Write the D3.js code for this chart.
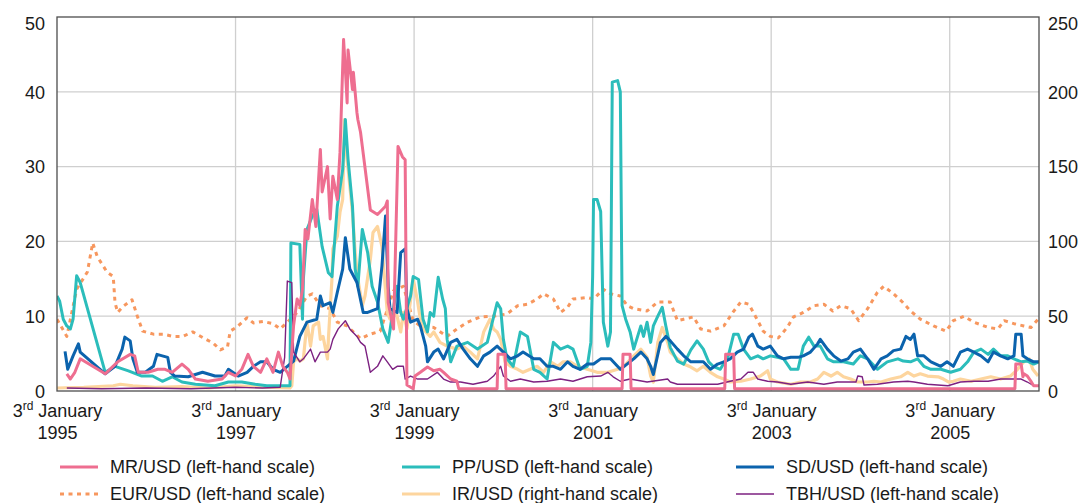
<!DOCTYPE html>
<html>
<head>
<meta charset="utf-8">
<script src="https://cdn.jsdelivr.net/npm/d3@7"></script>
<style>
  body { margin: 0; background: #fff; }
  svg text { font-family: "Liberation Sans", Arial, Helvetica, sans-serif; fill: #1a1a1a; }
</style>
</head>
<body>
<svg id="chart" width="1078" height="503"></svg>
<script>
// ---- data (decimal year, value) ------------------------------------------
const mrUsd = [[1995.11,2.3],[1995.15,1.6],[1995.20,2.5],[1995.26,4.3],[1995.54,2.3],[1995.68,3.9],[1995.82,4.9],[1995.87,4.7],[1995.91,2.5],[1996.02,2.5],[1996.13,2.9],[1996.21,2.9],[1996.29,2.5],[1996.40,3.6],[1996.47,2.9],[1996.55,1.6],[1996.69,1.3],[1996.85,1.6],[1996.92,2.5],[1997.00,2.0],[1997.07,2.9],[1997.14,4.9],[1997.20,3.3],[1997.28,2.5],[1997.35,4.3],[1997.42,2.5],[1997.48,5.2],[1997.53,3.3],[1997.58,2.5],[1997.61,1.6],[1997.63,5.2],[1997.65,8.7],[1997.69,12.3],[1997.72,11.4],[1997.75,13.6],[1997.78,21.6],[1997.81,20.3],[1997.86,25.6],[1997.90,22.0],[1997.93,28.3],[1997.95,32.3],[1997.97,26.6],[1998.03,30.0],[1998.06,23.0],[1998.09,28.7],[1998.14,25.6],[1998.17,31.9],[1998.21,47.0],[1998.23,43.0],[1998.25,38.5],[1998.26,45.6],[1998.31,40.3],[1998.32,42.6],[1998.36,37.2],[1998.37,36.3],[1998.40,34.6],[1998.42,32.7],[1998.51,24.2],[1998.59,23.6],[1998.68,24.7],[1998.70,25.4],[1998.71,11.8],[1998.77,8.3],[1998.82,32.7],[1998.87,31.3],[1998.90,30.9],[1998.92,0.8],[1998.99,0.3],[1999.01,2.0],[1999.07,2.5],[1999.15,3.2],[1999.22,2.7],[1999.29,2.9],[1999.33,2.5],[1999.41,1.6],[1999.48,1.3],[1999.50,0.3],[1999.93,0.3],[1999.94,4.9],[2000.02,4.9],[2000.03,0.3],[2001.33,0.3],[2001.34,4.9],[2001.42,4.9],[2001.43,0.3],[2002.48,0.3],[2002.49,4.9],[2002.58,4.9],[2002.59,0.3],[2005.73,0.3],[2005.74,3.6],[2005.80,3.6],[2005.82,1.9],[2005.83,2.3],[2005.87,2.0],[2005.91,1.3],[2005.94,0.7],[2006.00,0.7]];

const eurUsd = [[1995.00,9.6],[1995.11,7.3],[1995.22,13.6],[1995.34,15.9],[1995.40,19.8],[1995.45,18.0],[1995.56,15.9],[1995.63,15.3],[1995.65,11.8],[1995.68,10.5],[1995.74,11.3],[1995.84,12.2],[1995.90,10.0],[1995.96,8.0],[1996.08,7.6],[1996.19,7.6],[1996.30,7.3],[1996.41,7.3],[1996.52,7.9],[1996.64,7.1],[1996.75,6.4],[1996.83,5.5],[1996.91,5.9],[1996.94,8.0],[1997.02,8.6],[1997.13,9.8],[1997.20,9.1],[1997.31,9.3],[1997.42,9.0],[1997.50,8.3],[1997.58,9.2],[1997.69,10.5],[1997.80,12.7],[1997.86,13.0],[1997.95,11.4],[1998.06,11.0],[1998.14,9.2],[1998.25,8.7],[1998.40,7.0],[1998.51,7.6],[1998.62,8.0],[1998.77,13.4],[1998.88,14.0],[1998.99,9.4],[1999.07,8.7],[1999.22,8.5],[1999.37,7.3],[1999.48,8.3],[1999.60,9.2],[1999.74,9.9],[1999.89,10.0],[2000.04,10.3],[2000.16,11.4],[2000.27,11.6],[2000.38,12.3],[2000.45,13.0],[2000.56,12.3],[2000.64,10.5],[2000.72,11.2],[2000.78,12.3],[2000.94,12.5],[2001.01,12.3],[2001.12,13.6],[2001.20,13.0],[2001.31,12.7],[2001.39,11.4],[2001.46,11.0],[2001.61,10.7],[2001.73,11.9],[2001.87,11.9],[2001.95,9.4],[2002.02,9.6],[2002.13,9.9],[2002.21,8.3],[2002.32,8.0],[2002.47,8.7],[2002.57,10.5],[2002.66,11.9],[2002.75,11.6],[2002.85,9.4],[2002.91,8.0],[2002.99,7.3],[2003.08,7.1],[2003.18,8.5],[2003.25,9.9],[2003.36,10.5],[2003.48,11.4],[2003.59,11.6],[2003.69,10.7],[2003.78,11.4],[2003.89,11.0],[2003.98,9.4],[2004.08,11.0],[2004.19,13.2],[2004.26,14.0],[2004.37,13.0],[2004.47,11.9],[2004.56,10.7],[2004.67,9.6],[2004.82,8.7],[2004.96,8.0],[2005.04,9.4],[2005.16,10.0],[2005.27,9.2],[2005.43,8.5],[2005.54,8.3],[2005.61,9.4],[2005.72,9.0],[2005.83,8.7],[2005.91,8.5],[2005.99,9.6]];

const ppUsd = [[1995.00,12.7],[1995.03,12.0],[1995.07,9.6],[1995.11,8.7],[1995.15,8.3],[1995.18,9.6],[1995.22,15.4],[1995.26,14.5],[1995.54,2.5],[1995.65,3.3],[1995.80,2.7],[1995.95,2.0],[1996.07,2.0],[1996.18,1.3],[1996.29,1.9],[1996.40,1.2],[1996.55,0.9],[1996.77,0.7],[1996.92,1.2],[1997.07,1.2],[1997.22,0.9],[1997.35,0.7],[1997.61,0.7],[1997.62,19.8],[1997.72,19.6],[1997.75,9.6],[1997.76,15.0],[1997.80,21.6],[1997.86,23.4],[1997.91,24.3],[1997.97,19.3],[1998.04,15.8],[1998.08,15.3],[1998.14,24.7],[1998.20,29.6],[1998.23,36.3],[1998.26,31.0],[1998.31,24.7],[1998.34,16.3],[1998.37,14.0],[1998.42,21.6],[1998.48,18.5],[1998.53,14.0],[1998.59,11.9],[1998.65,8.3],[1998.71,6.5],[1998.76,10.5],[1998.81,14.0],[1998.85,10.5],[1998.88,9.6],[1998.96,12.7],[1998.99,15.3],[1999.05,14.9],[1999.10,9.6],[1999.15,7.9],[1999.18,10.5],[1999.22,10.0],[1999.27,15.2],[1999.32,12.3],[1999.35,11.0],[1999.37,6.9],[1999.41,3.9],[1999.48,6.0],[1999.60,6.5],[1999.71,5.6],[1999.82,6.5],[1999.93,11.8],[1999.97,11.0],[2000.00,6.9],[2000.04,4.3],[2000.11,3.3],[2000.19,7.9],[2000.27,7.3],[2000.34,2.9],[2000.41,2.5],[2000.49,1.6],[2000.56,6.5],[2000.64,5.6],[2000.72,6.0],[2000.78,5.6],[2000.86,2.9],[2000.94,3.3],[2000.98,6.5],[2001.00,15.3],[2001.01,25.6],[2001.05,25.6],[2001.09,24.0],[2001.12,9.2],[2001.17,6.0],[2001.20,7.9],[2001.22,41.3],[2001.28,41.5],[2001.31,40.0],[2001.33,11.4],[2001.37,9.6],[2001.42,7.9],[2001.46,5.6],[2001.54,8.7],[2001.57,7.3],[2001.61,9.2],[2001.65,6.5],[2001.68,8.7],[2001.73,10.0],[2001.78,11.2],[2001.82,8.7],[2001.87,5.8],[2001.95,4.0],[2002.02,3.6],[2002.10,5.5],[2002.17,6.7],[2002.24,5.6],[2002.30,3.9],[2002.35,3.3],[2002.43,2.9],[2002.52,4.7],[2002.58,7.6],[2002.63,7.6],[2002.69,5.6],[2002.77,4.3],[2002.85,4.7],[2002.91,4.3],[2002.99,4.7],[2003.07,4.5],[2003.14,4.3],[2003.22,2.9],[2003.30,2.9],[2003.36,6.0],[2003.42,7.2],[2003.48,6.0],[2003.55,6.0],[2003.63,4.3],[2003.70,3.9],[2003.81,3.9],[2003.92,3.6],[2004.00,4.7],[2004.08,4.3],[2004.19,2.9],[2004.30,3.9],[2004.42,4.3],[2004.48,4.0],[2004.56,3.9],[2004.64,4.3],[2004.71,3.3],[2004.79,2.9],[2004.90,2.9],[2005.01,2.5],[2005.12,2.9],[2005.20,3.9],[2005.27,5.2],[2005.35,5.6],[2005.43,4.9],[2005.49,5.6],[2005.57,4.7],[2005.65,4.7],[2005.72,4.3],[2005.80,3.9],[2005.87,4.0],[2005.94,3.6],[2006.00,3.9]];

// right-hand scale (0-250)
const irUsd = [[1995.00,2.0],[1995.30,2.5],[1995.63,3.5],[1995.71,4.5],[1995.85,3.5],[1996.10,2.5],[1996.40,3.0],[1996.70,2.0],[1997.00,3.5],[1997.30,2.5],[1997.61,2.0],[1997.63,3.5],[1997.65,19.5],[1997.69,21.5],[1997.72,20.0],[1997.76,21.5],[1997.80,46.0],[1997.84,30.0],[1997.87,43.5],[1997.93,46.0],[1997.95,34.5],[1997.98,36.5],[1998.03,21.5],[1998.04,34.5],[1998.06,55.0],[1998.08,75.0],[1998.09,95.0],[1998.14,103.5],[1998.17,119.5],[1998.20,128.0],[1998.22,181.5],[1998.25,155.0],[1998.28,137.0],[1998.31,119.5],[1998.34,92.5],[1998.37,75.0],[1998.42,57.0],[1998.45,63.5],[1998.51,88.0],[1998.54,106.0],[1998.59,110.0],[1998.64,96.5],[1998.70,52.5],[1998.73,48.0],[1998.79,55.0],[1998.85,39.5],[1998.88,52.5],[1998.92,41.5],[1998.99,75.0],[1999.04,59.5],[1999.07,48.0],[1999.10,41.5],[1999.18,36.5],[1999.22,39.5],[1999.29,32.5],[1999.37,30.0],[1999.48,28.0],[1999.55,30.0],[1999.63,26.0],[1999.71,21.5],[1999.78,39.5],[1999.85,48.0],[1999.89,41.5],[1999.93,39.5],[1999.97,34.5],[2000.02,19.5],[2000.08,16.5],[2000.16,14.5],[2000.22,12.5],[2000.30,14.5],[2000.38,16.5],[2000.45,12.5],[2000.53,19.5],[2000.61,16.5],[2000.67,19.5],[2000.75,19.5],[2000.83,16.5],[2000.94,14.5],[2001.05,12.5],[2001.17,12.5],[2001.28,14.5],[2001.35,16.5],[2001.46,23.5],[2001.54,28.0],[2001.61,22.5],[2001.65,10.0],[2001.68,6.0],[2001.73,32.5],[2001.78,42.5],[2001.84,32.5],[2001.87,26.0],[2001.95,21.5],[2002.02,18.0],[2002.10,16.0],[2002.17,13.5],[2002.24,16.5],[2002.32,12.5],[2002.40,9.5],[2002.47,8.0],[2002.54,6.0],[2002.66,6.5],[2002.77,8.0],[2002.88,10.0],[2002.96,13.5],[2002.99,8.0],[2003.07,6.0],[2003.22,4.5],[2003.33,6.0],[2003.44,6.0],[2003.52,8.0],[2003.59,12.5],[2003.67,10.0],[2003.74,12.5],[2003.81,9.5],[2003.89,8.0],[2003.97,6.0],[2004.08,6.0],[2004.15,6.5],[2004.23,6.0],[2004.34,8.0],[2004.45,9.5],[2004.53,12.5],[2004.60,10.0],[2004.67,11.5],[2004.75,10.0],[2004.87,9.5],[2004.93,8.0],[2004.99,6.0],[2005.04,6.5],[2005.12,8.0],[2005.24,6.5],[2005.35,8.0],[2005.46,9.5],[2005.57,8.0],[2005.68,10.0],[2005.76,14.5],[2005.83,19.5],[2005.89,21.5],[2005.93,14.5],[2005.99,10.0]];

const sdUsd = [[1995.09,5.3],[1995.12,2.9],[1995.18,4.7],[1995.24,6.3],[1995.26,5.2],[1995.54,2.3],[1995.65,3.3],[1995.73,5.6],[1995.76,7.2],[1995.82,6.7],[1995.85,4.3],[1995.90,2.5],[1995.99,2.5],[1996.08,3.3],[1996.12,4.9],[1996.18,4.7],[1996.24,4.5],[1996.27,2.5],[1996.32,2.0],[1996.47,1.9],[1996.63,2.5],[1996.77,2.0],[1996.88,2.0],[1996.92,2.9],[1997.03,2.0],[1997.13,2.5],[1997.20,3.3],[1997.28,3.9],[1997.35,3.9],[1997.42,2.9],[1997.50,2.5],[1997.58,3.3],[1997.65,4.0],[1997.72,7.3],[1997.80,9.2],[1997.91,9.6],[1997.95,12.7],[1997.98,11.4],[1998.06,11.8],[1998.09,10.5],[1998.14,13.2],[1998.20,16.3],[1998.23,20.5],[1998.28,16.3],[1998.36,14.5],[1998.43,10.5],[1998.48,10.5],[1998.59,11.0],[1998.64,16.7],[1998.68,23.4],[1998.71,14.0],[1998.73,11.0],[1998.81,10.5],[1998.85,18.5],[1998.90,19.0],[1998.92,11.0],[1998.96,9.2],[1999.04,9.6],[1999.07,8.7],[1999.13,6.0],[1999.15,3.9],[1999.22,5.2],[1999.27,5.6],[1999.33,4.3],[1999.41,6.5],[1999.48,6.9],[1999.55,5.6],[1999.63,4.3],[1999.71,3.3],[1999.78,4.7],[1999.85,5.2],[1999.93,6.0],[2000.00,5.2],[2000.08,4.3],[2000.16,4.7],[2000.22,5.2],[2000.34,4.3],[2000.41,4.3],[2000.49,3.3],[2000.56,3.3],[2000.64,2.9],[2000.72,3.9],[2000.78,3.3],[2000.86,2.9],[2000.94,3.6],[2001.01,3.6],[2001.09,4.3],[2001.20,4.3],[2001.31,2.9],[2001.46,4.3],[2001.54,5.2],[2001.61,4.3],[2001.65,3.3],[2001.68,2.2],[2001.76,6.5],[2001.82,7.3],[2001.87,6.7],[2001.95,5.6],[2002.02,4.7],[2002.10,3.9],[2002.17,3.9],[2002.24,3.9],[2002.32,2.9],[2002.40,3.6],[2002.47,3.9],[2002.54,4.3],[2002.62,5.2],[2002.69,5.6],[2002.75,7.2],[2002.79,7.6],[2002.85,6.0],[2002.91,5.6],[2002.99,6.0],[2003.07,4.7],[2003.14,4.3],[2003.22,4.5],[2003.30,4.5],[2003.36,4.7],[2003.44,5.2],[2003.52,6.3],[2003.55,6.9],[2003.63,5.6],[2003.70,4.7],[2003.78,4.0],[2003.86,4.3],[2003.92,5.2],[2004.00,5.6],[2004.08,4.3],[2004.15,2.9],[2004.23,4.3],[2004.30,4.7],[2004.37,5.4],[2004.45,5.6],[2004.51,7.3],[2004.56,6.9],[2004.60,7.6],[2004.64,4.7],[2004.71,4.7],[2004.79,3.9],[2004.90,3.3],[2004.97,3.9],[2005.04,3.3],[2005.12,5.2],[2005.20,5.6],[2005.27,5.2],[2005.35,4.7],[2005.43,3.9],[2005.49,5.2],[2005.57,4.7],[2005.65,4.3],[2005.72,4.7],[2005.74,7.6],[2005.80,7.6],[2005.82,4.7],[2005.87,4.3],[2005.94,3.9],[2006.00,3.9]];

const tbhUsd = [[1995.11,0.4],[1995.50,0.3],[1996.00,0.4],[1996.50,0.3],[1997.00,0.5],[1997.30,0.4],[1997.50,0.5],[1997.55,4.5],[1997.58,14.7],[1997.63,14.5],[1997.65,5.2],[1997.72,3.9],[1997.76,4.3],[1997.84,5.6],[1997.89,3.9],[1997.95,5.2],[1998.03,5.2],[1998.06,5.6],[1998.09,6.9],[1998.15,8.3],[1998.23,9.4],[1998.28,8.3],[1998.36,7.3],[1998.40,6.5],[1998.45,6.0],[1998.51,2.5],[1998.59,3.3],[1998.65,4.7],[1998.70,3.9],[1998.76,2.9],[1998.81,3.3],[1998.88,3.3],[1998.90,1.6],[1998.96,2.0],[1999.04,1.6],[1999.15,1.6],[1999.26,2.5],[1999.33,1.6],[1999.41,1.2],[1999.52,1.2],[1999.66,0.9],[1999.82,1.3],[1999.89,2.0],[1999.97,3.3],[2000.00,2.0],[2000.08,1.3],[2000.19,1.6],[2000.34,1.2],[2000.49,1.3],[2000.64,1.6],[2000.78,1.3],[2000.94,1.9],[2001.09,2.0],[2001.17,2.5],[2001.23,1.9],[2001.31,1.3],[2001.42,1.6],[2001.61,1.2],[2001.84,1.6],[2001.87,1.2],[2001.95,0.9],[2002.17,0.9],[2002.40,0.9],[2002.54,1.3],[2002.66,1.6],[2002.74,2.5],[2002.80,2.5],[2002.85,1.6],[2002.96,1.3],[2003.07,1.2],[2003.22,0.9],[2003.41,1.2],[2003.59,0.9],[2003.74,1.2],[2003.95,1.2],[2003.97,2.0],[2004.02,1.9],[2004.04,0.8],[2004.19,0.9],[2004.37,1.2],[2004.53,1.3],[2004.60,1.2],[2004.75,0.9],[2004.98,0.7],[2005.12,1.2],[2005.27,1.3],[2005.43,1.3],[2005.57,1.6],[2005.80,1.6],[2005.87,1.2],[2005.94,0.7],[2006.00,0.7]];

const xTickYears = [1995, 1997, 1999, 2001, 2003, 2005];
const leftTicks = [0, 10, 20, 30, 40, 50];
const rightTicks = [0, 50, 100, 150, 200, 250];

// legend order: row by row, three columns
const seriesList = [
  { name: "MR/USD (left-hand scale)",   data: mrUsd,  axis: "left",  color: "#ee6e90", width: 3,   dash: null },
  { name: "PP/USD (left-hand scale)",   data: ppUsd,  axis: "left",  color: "#2bbdbb", width: 3,   dash: null },
  { name: "SD/USD (left-hand scale)",   data: sdUsd,  axis: "left",  color: "#0b63ad", width: 3,   dash: null },
  { name: "EUR/USD (left-hand scale)",  data: eurUsd, axis: "left",  color: "#f7975e", width: 3,   dash: "4,4.5" },
  { name: "IR/USD (right-hand scale)",  data: irUsd,  axis: "right", color: "#fdd59e", width: 3.2, dash: null },
  { name: "TBH/USD (left-hand scale)",  data: tbhUsd, axis: "left",  color: "#7c2181", width: 1.4, dash: null }
];
// draw order (last on top)
const drawOrder = [3, 4, 1, 2, 5, 0];

// ---- layout ------------------------------------------------------------------
const svg = d3.select("#chart");
const plot = { left: 57, right: 1039, top: 17, bottom: 391 };

const x = d3.scaleLinear().domain([1995, 2006]).range([plot.left, plot.right]);
const yL = d3.scaleLinear().domain([0, 50]).range([plot.bottom, plot.top]);
const yR = d3.scaleLinear().domain([0, 250]).range([plot.bottom, plot.top]);

// gridlines
const grid = svg.append("g").attr("stroke", "#cfcfcf").attr("stroke-width", 1.3);
leftTicks.slice(1, -1).forEach(v => {
  grid.append("line").attr("x1", plot.left).attr("x2", plot.right)
    .attr("y1", yL(v)).attr("y2", yL(v));
});
xTickYears.slice(1).forEach(v => {
  grid.append("line").attr("x1", x(v)).attr("x2", x(v))
    .attr("y1", plot.top).attr("y2", plot.bottom);
});

// clip
svg.append("clipPath").attr("id", "plotClip").append("rect")
  .attr("x", plot.left).attr("y", plot.top)
  .attr("width", plot.right - plot.left).attr("height", plot.bottom - plot.top);

// lines
const linesG = svg.append("g").attr("clip-path", "url(#plotClip)");
drawOrder.forEach(i => {
  const s = seriesList[i];
  const yScale = s.axis === "left" ? yL : yR;
  const line = d3.line().x(d => x(d[0])).y(d => yScale(d[1]));
  linesG.append("path")
    .datum(s.data)
    .attr("d", line)
    .attr("fill", "none")
    .attr("stroke", s.color)
    .attr("stroke-width", s.width)
    .attr("stroke-linejoin", "round")
    .attr("stroke-dasharray", s.dash);
});

// frame
svg.append("rect")
  .attr("x", plot.left).attr("y", plot.top)
  .attr("width", plot.right - plot.left).attr("height", plot.bottom - plot.top)
  .attr("fill", "none").attr("stroke", "#4d4d4d").attr("stroke-width", 1.3);

// left axis
const gl = svg.append("g").attr("transform", `translate(${plot.left},0)`)
  .call(d3.axisLeft(yL).tickValues(leftTicks).tickSize(0).tickPadding(12));
gl.select(".domain").remove();
gl.selectAll("text").attr("font-size", 18)
  .attr("dy", d => d === 50 ? "0.7em" : "0.35em");

// right axis
const gr = svg.append("g").attr("transform", `translate(${plot.right},0)`)
  .call(d3.axisRight(yR).tickValues(rightTicks).tickSize(0).tickPadding(9));
gr.select(".domain").remove();
gr.selectAll("text").attr("font-size", 18)
  .attr("dy", d => d === 250 ? "0.7em" : "0.35em");

// bottom axis: "3rd January" / year
const gx = svg.append("g").attr("transform", `translate(0,${plot.bottom})`)
  .call(d3.axisBottom(x).tickValues(xTickYears).tickSize(0).tickFormat(""));
gx.select(".domain").remove();
gx.selectAll(".tick text").remove();
gx.selectAll(".tick").each(function (yr) {
  const tick = d3.select(this);
  const t1 = tick.append("text").attr("text-anchor", "middle").attr("font-size", 18).attr("y", 26);
  t1.append("tspan").text("3");
  t1.append("tspan").attr("font-size", 12).attr("dy", -7).text("rd");
  t1.append("tspan").attr("dy", 7).text(" January");
  tick.append("text").attr("text-anchor", "middle").attr("font-size", 18).attr("y", 48).text(yr);
});

// legend
const legendCols = [60, 402, 736];
const legendRows = [467, 494];
seriesList.forEach((s, i) => {
  const cx = legendCols[i % 3];
  const cy = legendRows[Math.floor(i / 3)];
  const g = svg.append("g");
  g.append("line").attr("x1", cx).attr("x2", cx + 38).attr("y1", cy).attr("y2", cy)
    .attr("stroke", s.color).attr("stroke-width", s.width)
    .attr("stroke-dasharray", s.dash);
  g.append("text").attr("x", cx + 50).attr("y", cy).attr("dy", "0.36em")
    .attr("font-size", 18).text(s.name);
});
</script>
</body>
</html>
